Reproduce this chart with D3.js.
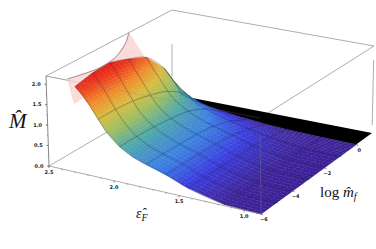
<!DOCTYPE html>
<html>
<head>
<meta charset="utf-8">
<style>
  html, body { margin: 0; padding: 0; background: #fff; }
  svg { display: block; }
  text { font-family: "Liberation Serif", serif; }
  .tick-label { font-family: "DejaVu Sans", sans-serif; font-size: 5px; font-weight: bold; fill: #222; text-anchor: middle; }
</style>
</head>
<body>
<div id="vis"></div>
<script src="https://cdn.jsdelivr.net/npm/d3@7"></script>
<script>
const width = 376, height = 249;

// values
const epsValues = [0.87, 1.15, 1.43, 1.6, 1.75, 1.85, 1.95, 2.05, 2.11, 2.17, 2.23, 2.28];
const logMValues = [-6, -5, -4, -3, -2, -1, -0.5, 0];
const massGrid = [
  [0.00, 0.00, 0.00, 0.00, 0.00, 0.00, 0.00, 0.00],
  [0.03, 0.03, 0.03, 0.03, 0.03, 0.02, 0.02, 0.01],
  [0.22, 0.22, 0.21, 0.20, 0.18, 0.12, 0.08, 0.03],
  [0.42, 0.42, 0.40, 0.38, 0.33, 0.22, 0.14, 0.06],
  [0.56, 0.56, 0.54, 0.52, 0.46, 0.32, 0.20, 0.10],
  [0.67, 0.67, 0.66, 0.63, 0.56, 0.40, 0.26, 0.13],
  [0.85, 0.85, 0.83, 0.78, 0.70, 0.50, 0.33, 0.17],
  [1.14, 1.14, 1.10, 1.02, 0.90, 0.64, 0.42, 0.21],
  [1.40, 1.40, 1.36, 1.26, 1.10, 0.78, 0.50, 0.25],
  [1.68, 1.70, 1.66, 1.54, 1.36, 0.94, 0.60, 0.30],
  [1.92, 1.98, 1.96, 1.82, 1.62, 1.14, 0.72, 0.35],
  [2.08, 2.18, 2.20, 2.05, 1.85, 1.33, 0.90, 0.40]
];
const meshLogM = [-6, -5, -4, -3, -2, -1, 0];
const meshEps = [0.87, 1.15, 1.43, 1.6, 1.75, 1.95, 2.11, 2.28];

// pale upper sheet: its rim on the top face, then back along the wall
const sheetEps = [2.35, 2.285, 2.31, 2.405, 2.5, 2.5, 2.28, 2.28, 2.29];
const sheetLogM = [-5.9, -4.56, -3.46, -2.24, -1.4, -0.54, -1.5, -4, -6];
const sheetMass = [2.2, 2.2, 2.2, 2.2, 2.2, 1.35, 1.5, 1.8, 1.66];

// axis ticks
const massTicks = [0, 0.5, 1, 1.5, 2];
const massMinor = [0.25, 0.75, 1.25, 1.75];
const epsTicks = [2.5, 2, 1.5, 1];
const epsMinor = [2.4, 2.3, 2.2, 2.1, 1.9, 1.8, 1.7, 1.6, 1.4, 1.3, 1.2, 1.1, 0.9];
const logMTicks = [-6, -4, -2, 0];
const logMMinor = [-5, -3, -1];

// box corners on screen, a = low eps side etc
const floorCorners = { A: [49, 166], B: [261, 214], C: [372, 133], D: [172, 94] };
const topCorners = { A: [46, 76], B: [260, 118], C: [374, 46], D: [172, 10] };

const uScale = d3.scaleLinear().domain([2.5, 0.87]).range([0, 1]);
const vScale = d3.scaleLinear().domain([-6, 1]).range([0, 1]);
const wScale = d3.scaleLinear().domain([0, 2.2]).range([0, 1]);

const massColor = d3.scaleLinear()
  .domain([0, 0.06, 0.25, 0.5, 0.8, 1.1, 1.4, 1.7, 2.0, 2.2])
  .range(["#3a1f96", "#40289f", "#3a3ce0", "#3a80e0", "#4fa8a8", "#9dbe60", "#d8bc40", "#f08a28", "#ec3a1c", "#e41a14"]);

function bilinear(c, u, v) {
  const b = [c.A[0] + (c.B[0] - c.A[0]) * u, c.A[1] + (c.B[1] - c.A[1]) * u];
  const d = [c.D[0] + (c.C[0] - c.D[0]) * u, c.D[1] + (c.C[1] - c.D[1]) * u];
  return [b[0] + (d[0] - b[0]) * v, b[1] + (d[1] - b[1]) * v];
}

function project(eps, logM, mass) {
  const u = uScale(eps), v = vScale(logM), w = wScale(mass);
  const lo = bilinear(floorCorners, u, v);
  const hi = bilinear(topCorners, u, v);
  return [lo[0] + (hi[0] - lo[0]) * w, lo[1] + (hi[1] - lo[1]) * w];
}

const svg = d3.select("#vis").append("svg")
  .attr("width", width).attr("height", height);

function boxLine(a, b, opacity) {
  svg.append("path")
    .attr("d", d3.line()([project(...a), project(...b)]))
    .attr("stroke", "#8a8a8a").attr("stroke-width", 0.7)
    .attr("fill", "none").attr("opacity", opacity === undefined ? 1 : opacity);
}

// back of the box
boxLine([2.5, -6, 2.2], [2.5, 1, 2.2]);
boxLine([2.5, 1, 2.2], [0.87, 1, 2.2]);
boxLine([2.5, -6, 2.2], [0.87, -6, 2.2]);
boxLine([0.87, -6, 2.2], [0.87, 1, 2.2]);
boxLine([2.5, -6, 0], [2.5, 1, 0]);
boxLine([0.87, 1, 0.2], [0.87, 1, 1.85]);
boxLine([2.5, 1, 0.45], [2.5, 1, 1.3]);

// black strip behind the m=0 edge
const lastCol = logMValues.length - 1;
const blackEdge = epsValues.map((e, i) => project(e, 0, massGrid[i][lastCol]));
blackEdge.push(project(2.45, 1, 0), project(0.87, 1, 0));
svg.append("path").attr("d", d3.line()(blackEdge) + "Z").attr("fill", "#000");

// pale sheet
const sheetPts = sheetEps.map((e, i) => project(e, sheetLogM[i], sheetMass[i]));
svg.append("path")
  .attr("d", d3.line()(sheetPts) + "Z")
  .attr("fill", "#fbdcd8").attr("stroke", "#f3c8c4").attr("stroke-width", 0.4);
svg.append("path")
  .attr("d", d3.line().curve(d3.curveCatmullRom)(sheetPts.slice(0, 5)))
  .attr("fill", "none").attr("stroke", "#444").attr("stroke-width", 0.5);

// bilinear lookup of the table, only used to shade inside each table cell
function cellMass(i, j, a, b) {
  const m = massGrid;
  return (m[i][j] * (1 - b) + m[i][j + 1] * b) * (1 - a) + (m[i + 1][j] * (1 - b) + m[i + 1][j + 1] * b) * a;
}

const steps = 5;
const gSurface = svg.append("g");
for (let i = epsValues.length - 2; i >= 0; i--) {
  for (let j = logMValues.length - 2; j >= 0; j--) {
    for (let si = steps - 1; si >= 0; si--) {
      for (let sj = steps - 1; sj >= 0; sj--) {
        const a0 = si / steps, a1 = (si + 1) / steps, b0 = sj / steps, b1 = (sj + 1) / steps;
        const e0 = epsValues[i] + (epsValues[i + 1] - epsValues[i]) * a0;
        const e1 = epsValues[i] + (epsValues[i + 1] - epsValues[i]) * a1;
        const l0 = logMValues[j] + (logMValues[j + 1] - logMValues[j]) * b0;
        const l1 = logMValues[j] + (logMValues[j + 1] - logMValues[j]) * b1;
        const corners = [
          project(e0, l0, cellMass(i, j, a0, b0)),
          project(e1, l0, cellMass(i, j, a1, b0)),
          project(e1, l1, cellMass(i, j, a1, b1)),
          project(e0, l1, cellMass(i, j, a0, b1))
        ];
        const col = massColor(cellMass(i, j, (a0 + a1) / 2, (b0 + b1) / 2));
        gSurface.append("path")
          .attr("d", d3.line()(corners) + "Z")
          .attr("fill", col).attr("stroke", col).attr("stroke-width", 0.4);
      }
    }
  }
}

// mesh lines
const meshLine = d3.line().curve(d3.curveCatmullRom);
meshLogM.forEach(l => {
  const j = logMValues.indexOf(l);
  svg.append("path")
    .attr("d", meshLine(epsValues.map((e, i) => project(e, l, massGrid[i][j]))))
    .attr("fill", "none").attr("stroke", "#1a1a3a").attr("stroke-width", 0.45).attr("opacity", 0.75);
});
meshEps.forEach(e => {
  const i = epsValues.indexOf(e);
  svg.append("path")
    .attr("d", meshLine(logMValues.map((l, j) => project(e, l, massGrid[i][j]))))
    .attr("fill", "none").attr("stroke", "#1a1a3a").attr("stroke-width", 0.45).attr("opacity", 0.75);
});

// front edges seen through the surface
boxLine([0.87, -6, 0], [0.87, -6, 1.8], 0.45);
boxLine([2.5, -6, 2.2], [0.87, -6, 2.2], 0.35);
boxLine([0.87, -6, 2.0], [0.87, 1, 2.2], 0);
boxLine([2.5, -6, 0], [0.87, -6, 0]);
boxLine([0.87, -6, 0], [0.87, 1, 0], 0);

// z axis on the left corner
svg.append("path")
  .attr("d", d3.line()([project(2.5, -6, 0), project(2.5, -6, 2.2)]))
  .attr("stroke", "#555").attr("stroke-width", 0.7).attr("fill", "none");

function tick(p, dx, dy, w) {
  svg.append("path").attr("d", d3.line()([p, [p[0] + dx, p[1] + dy]]))
    .attr("stroke", "#333").attr("stroke-width", w);
}

massTicks.forEach(t => {
  const p = project(2.5, -6, t);
  tick(p, -2, 0, 0.6);
  svg.append("text").attr("class", "tick-label")
    .attr("x", p[0] - 10).attr("y", p[1] + 1.5).text(d3.format(".1f")(t));
});
massMinor.forEach(t => tick(project(2.5, -6, t), -1, 0, 0.4));

epsTicks.forEach(t => {
  const p = project(t, -6, 0);
  tick(p, 0, 2, 0.6);
  svg.append("text").attr("class", "tick-label")
    .attr("x", p[0]).attr("y", p[1] + 8).text(d3.format(".1f")(t));
});
epsMinor.forEach(t => tick(project(t, -6, 0), 0, 1.2, 0.4));

logMTicks.forEach(t => {
  const p = project(0.87, t, 0);
  tick(p, 2, 1, 0.6);
  svg.append("text").attr("class", "tick-label")
    .attr("x", p[0] + 3).attr("y", p[1] + 7).text(t === 0 ? "0" : "\u2212" + Math.abs(t));
});
logMMinor.forEach(t => tick(project(0.87, t, 0), 1.2, 0.6, 0.4));

// axis titles
svg.append("text").attr("x", 9).attr("y", 128)
  .attr("font-size", 21).attr("font-style", "italic").attr("fill", "#111").text("M\u0302");

const epsLabel = svg.append("text").attr("x", 136).attr("y", 218)
  .attr("font-size", 14).attr("font-style", "italic").attr("fill", "#111");
epsLabel.append("tspan").text("\u03B5\u0302");
epsLabel.append("tspan").attr("dy", 3).attr("font-size", 10).text("F");

const massLabel = svg.append("text").attr("x", 320).attr("y", 197)
  .attr("font-size", 15).attr("fill", "#111");
massLabel.append("tspan").text("log ");
massLabel.append("tspan").attr("font-style", "italic").text("m\u0302");
massLabel.append("tspan").attr("dy", 3).attr("font-size", 10).attr("font-style", "italic").text("f");
</script>
</body>
</html>
